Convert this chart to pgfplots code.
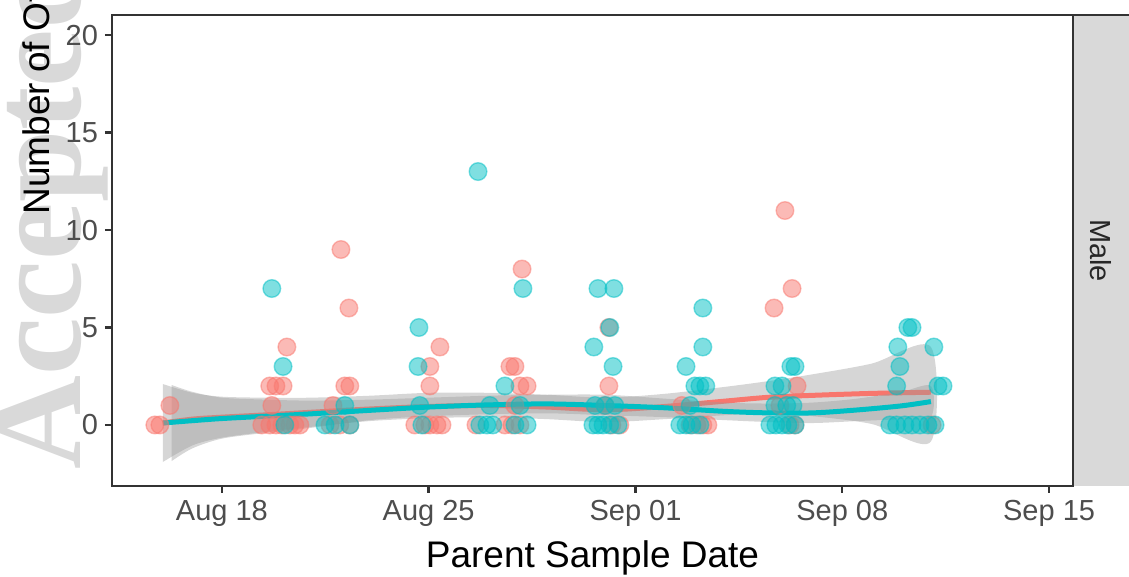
\documentclass[border=0pt]{standalone}
\usepackage{pgfplots}
\pgfplotsset{compat=1.18}
\usepackage{fontspec}
\setmainfont{Liberation Sans}
\newfontfamily\wmfont{Liberation Serif}
\definecolor{cred}{HTML}{F8766D}
\definecolor{ccyan}{HTML}{00BFC4}
\definecolor{bandgray}{HTML}{999999}
\definecolor{axgray}{HTML}{333333}
\definecolor{ticktext}{HTML}{4D4D4D}
\definecolor{stripgray}{HTML}{D9D9D9}
\definecolor{wmgray}{HTML}{D9D9D9}
\begin{document}
\begin{tikzpicture}[x=0.5pt,y=0.5pt]
\useasboundingbox (0,0) rectangle (1129,577);
% watermark
\node[rotate=90, anchor=base west, text=wmgray, font=\wmfont\bfseries\fontsize{65}{65}\selectfont, inner sep=0pt] at (80,107) {Accepted};
% facet strip
\fill[stripgray] (1073,91) rectangle (1145,562);
\draw[axgray, line width=1.2pt] (1073,562) -- (1145,562);
\node[rotate=-90, font=\fontsize{14.5}{14.5}\selectfont, text=black!85, inner sep=0pt] at (1101,326.5) {Male};
\begin{axis}[
  at={(56pt,45.5pt)}, anchor=south west, scale only axis,
  width=480.5pt, height=235.5pt,
  xmin=-3.72, xmax=28.81, ymin=-3.13, ymax=21.03,
  axis line style={axgray, line width=1.2pt},
  tick align=outside, major tick length=3.5pt,
  every tick/.style={axgray, line width=1.2pt},
  xtick pos=bottom, ytick pos=left,
  xtick={0,7,14,21,28},
  xticklabels={Aug 18, Aug 25, Sep 01, Sep 08, Sep 15},
  ytick={0,5,10,15,20},
  tick label style={font=\fontsize{14.5}{14.5}\selectfont, text=ticktext},
  /pgf/number format/assume math mode=true,
  clip=true,
]
% red points
\addplot[only marks, mark=*, mark size=4.4pt, mark options={draw=cred, fill=cred, fill opacity=0.5, draw opacity=0.5, line width=0.7pt}] coordinates {
(-2.27,0) (-2.10,0) (-1.76,1)
(1.35,0) (1.62,0) (1.83,0) (2.03,0) (2.30,0) (2.47,0) (2.64,0)
(1.69,1) (1.62,2) (1.83,2) (2.07,2) (2.20,4)
(3.66,0) (3.99,0) (4.33,0) (3.76,1) (4.16,2) (4.33,2) (4.30,6) (4.03,9)
(6.53,0) (6.87,0) (7.04,0) (7.28,0) (7.45,0) (7.04,2) (7.04,3) (7.38,4)
(8.60,0)
(9.58,0) (9.82,0) (10.09,0) (9.92,1) (10.09,2) (10.33,2) (9.75,3) (9.92,3) (10.16,8)
(13.20,0) (13.47,0) (12.97,1) (13.10,2) (13.10,5)
(15.57,1) (15.85,0) (16.08,0) (16.28,0) (16.45,0)
(19.23,0) (19.40,0) (18.89,1) (19.47,2) (18.69,6) (19.30,7) (19.06,11)
(24.04,0)
};
% cyan points
\addplot[only marks, mark=*, mark size=4.4pt, mark options={draw=ccyan, fill=ccyan, fill opacity=0.5, draw opacity=0.5, line width=0.7pt}] coordinates {
(1.69,7) (2.07,3) (2.13,0)
(3.49,0) (3.83,0) (4.33,0) (4.16,1)
(6.67,5) (6.64,3) (6.70,1) (6.77,0)
(8.67,13) (9.07,1) (8.73,0) (8.97,0) (9.17,0)
(10.19,7) (9.58,2) (10.09,1) (10.33,0) (9.92,0)
(12.73,7) (13.27,7) (13.13,5) (12.59,4) (13.24,3) (12.63,1) (12.97,1) (13.30,1) (12.56,0) (12.73,0) (12.90,0) (13.13,0) (13.41,0)
(16.28,6) (16.28,4) (15.71,3) (16.01,2) (16.18,2) (16.38,2) (15.85,1) (15.50,0) (15.71,0) (15.91,0) (16.18,0)
(19.26,3) (19.40,3) (18.72,2) (18.96,2) (18.72,1) (19.12,1) (19.33,1) (18.55,0) (18.75,0) (18.96,0) (19.16,0) (19.40,0)
(23.22,5) (23.36,5) (22.88,4) (24.10,4) (22.95,3) (22.84,2) (24.24,2) (24.41,2) (22.61,0) (22.84,0) (23.12,0) (23.36,0) (23.63,0) (23.90,0) (24.14,0)
};
% red band
\addplot[draw=none, fill=bandgray, fill opacity=0.4, smooth] coordinates {
(-2.0,-1.9) (-1.0,-1.05) (0.0,-0.65) (1.5,-0.35) (3.0,-0.1) (5.0,0.2) (7.0,0.35) (9.0,0.4) (11.0,0.3) (13.0,0.15) (15.0,0.3) (17.0,0.5) (18.5,0.6) (20.0,0.45) (22.0,0.05) (24.0,-0.85)
(24.0,4.0) (22.0,3.15) (20.0,2.6) (18.5,2.25) (17.0,1.95) (15.0,1.6) (13.0,1.4) (11.0,1.55) (9.0,1.65) (7.0,1.65) (5.0,1.5) (3.0,1.4) (1.5,1.4) (0.0,1.45) (-1.0,1.65) (-2.0,2.1)
};
\addplot[cred, line width=2.5pt, smooth] coordinates {
(-2.0,0.1) (-1.0,0.3) (0.0,0.4) (1.5,0.52) (3.0,0.65) (5.0,0.82) (7.0,0.95) (9.0,1.0) (11.0,0.92) (13.0,0.78) (15.0,0.95) (17.0,1.22) (18.5,1.42) (20.0,1.52) (22.0,1.62) (24.0,1.68)
};
% cyan band
\addplot[draw=none, fill=bandgray, fill opacity=0.4, smooth] coordinates {
(-1.7,-1.85) (-1.0,-1.2) (0.0,-0.7) (1.5,-0.4) (3.0,-0.15) (5.0,0.25) (7.0,0.45) (9.0,0.55) (11.0,0.6) (13.0,0.5) (15.0,0.4) (17.0,0.25) (18.5,0.15) (20.0,0.1) (21.5,0.2) (23.0,0.3) (24.0,0.4)
(24.0,2.0) (23.0,1.7) (21.5,1.35) (20.0,1.15) (18.5,1.1) (17.0,1.15) (15.0,1.35) (13.0,1.55) (11.0,1.55) (9.0,1.5) (7.0,1.4) (5.0,1.3) (3.0,1.25) (1.5,1.3) (0.0,1.4) (-1.0,1.7) (-1.7,2.05)
};
\addplot[ccyan, line width=2.5pt, smooth] coordinates {
(-2.0,0.1) (-1.0,0.22) (0.0,0.33) (1.5,0.45) (3.0,0.57) (5.0,0.75) (7.0,0.92) (9.0,1.03) (11.0,1.08) (13.0,1.0) (15.0,0.88) (17.0,0.7) (18.5,0.62) (20.0,0.62) (21.5,0.77) (23.0,0.98) (24.0,1.2)
};
\end{axis}
% axis titles
\node[rotate=90, anchor=base west, font=\fontsize{18.5}{18.5}\selectfont, text=black, inner sep=0pt] at (49,362) {Number of Offspring};
\node[anchor=base, font=\fontsize{18.5}{18.5}\selectfont, text=black, inner sep=0pt] at (592.5,9) {Parent Sample Date};
\end{tikzpicture}
\end{document}
